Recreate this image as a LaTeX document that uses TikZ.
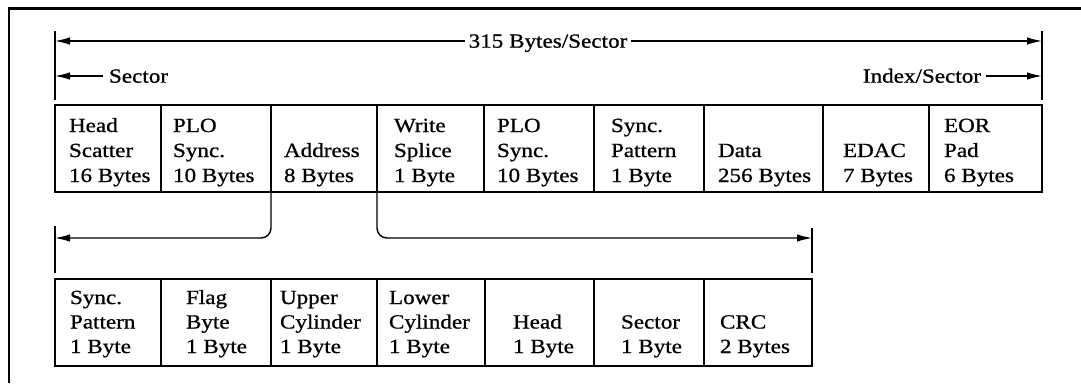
\documentclass[tikz,border=0pt]{standalone}
\usepackage{fontspec}
\setmainfont{Liberation Serif}[FakeStretch=1.15, FakeBold=0.8]
\usetikzlibrary{arrows.meta}
\newcommand{\fs}{\rule{0pt}{16pt}}
\tikzset{
  cell/.style={draw, line width=1.8pt, anchor=north west, inner sep=0pt, outer sep=0pt, minimum height=87pt},
  lbltop/.style={anchor=north west, inner sep=0pt, outer sep=0pt, align=left, font=\fontsize{20.1}{25}\selectfont},
  lblbot/.style={anchor=north west, inner sep=0pt, outer sep=0pt, align=left, font=\fontsize{20.1}{24.5}\selectfont},
  dimline/.style={line width=1.4pt},
  arr/.style={dimline, -{Latex[length=15pt,width=7.5pt]}},
  dimlbl/.style={font=\fontsize{20.1}{25}\selectfont, text height=13.3pt, text depth=0pt, inner ysep=0pt, outer sep=0pt},
  frameline/.style={line width=2.8pt}
}
\begin{document}
\begin{tikzpicture}[x=1pt,y=-1pt]
\useasboundingbox (0,0) rectangle (1081,383);
% outer frame
\draw[frameline] (9,383) -- (9,8.5) -- (1081,8.5);

% dimension ticks
\coordinate (tlt) at (55,31);  \coordinate (tlb) at (55,100);
\coordinate (trt) at (1042,31); \coordinate (trb) at (1042,100);
\draw[dimline] (tlt) -- (tlb);
\draw[dimline] (trt) -- (trb);
\coordinate (a1l) at (55,41);  \coordinate (a1r) at (1042,41);
\coordinate (a2l) at (55,76);  \coordinate (a2r) at (1042,76);

\node[dimlbl, inner xsep=4pt] (tot) at (548,41) {315 Bytes/Sector};
\draw[arr] (tot.west) -- (a1l);
\draw[arr] (tot.east) -- (a1r);

\node[dimlbl, anchor=west, inner xsep=6pt] (sec) at (103,76) {Sector};
\draw[arr] (sec.west) -- (a2l);
\node[dimlbl, anchor=east, inner xsep=5pt] (idx) at (986,76) {Index/Sector};
\draw[arr] (idx.east) -- (a2r);

% top row boxes
\node[cell, minimum width=106pt] (t1) at (55,105) {};
\node[cell, minimum width=110pt] (t2) at (161,105) {};
\node[cell, minimum width=106pt] (t3) at (271,105) {};
\node[cell, minimum width=107pt] (t4) at (377,105) {};
\node[cell, minimum width=110pt] (t5) at (484,105) {};
\node[cell, minimum width=110pt] (t6) at (594,105) {};
\node[cell, minimum width=119pt] (t7) at (704,105) {};
\node[cell, minimum width=106pt] (t8) at (823,105) {};
\node[cell, minimum width=113pt] (t9) at (929,105) {};

\node[lbltop] (t1l) at (69,116) {\fs Head\\Scatter\\16 Bytes};
\node[lbltop] (t2l) at (173,116) {\fs PLO\\Sync.\\10 Bytes};
\node[lbltop] (t3l) at (284,141) {\fs Address\\8 Bytes};
\node[lbltop] (t4l) at (394,116) {\fs Write\\Splice\\1 Byte};
\node[lbltop] (t5l) at (497,116) {\fs PLO\\Sync.\\10 Bytes};
\node[lbltop] (t6l) at (611,116) {\fs Sync.\\Pattern\\1 Byte};
\node[lbltop] (t7l) at (718,141) {\fs Data\\256 Bytes};
\node[lbltop] (t8l) at (843,141) {\fs EDAC\\7 Bytes};
\node[lbltop] (t9l) at (944,116) {\fs EOR\\Pad\\6 Bytes};

% address expansion connectors
\coordinate (ll) at (55,238);
\coordinate (lr) at (812,238);
\draw[arr, rounded corners=10pt] (t3.south west) |- (ll);
\draw[arr, rounded corners=10pt] (t4.south west) |- (lr);
\coordinate (blt) at (55,226);  \coordinate (blb) at (55,273);
\coordinate (brt) at (812,228); \coordinate (brb) at (812,273);
\draw[dimline] (blt) -- (blb);
\draw[dimline] (brt) -- (brb);

% bottom row boxes
\node[cell, minimum width=106pt] (b1) at (55,279) {};
\node[cell, minimum width=110pt] (b2) at (161,279) {};
\node[cell, minimum width=106pt] (b3) at (271,279) {};
\node[cell, minimum width=108pt] (b4) at (377,279) {};
\node[cell, minimum width=109pt] (b5) at (485,279) {};
\node[cell, minimum width=110pt] (b6) at (594,279) {};
\node[cell, minimum width=108pt] (b7) at (704,279) {};

\node[lblbot] (b1l) at (70,288) {\fs Sync.\\Pattern\\1 Byte};
\node[lblbot] (b2l) at (186,288) {\fs Flag\\Byte\\1 Byte};
\node[lblbot] (b3l) at (280,288) {\fs Upper\\Cylinder\\1 Byte};
\node[lblbot] (b4l) at (389,288) {\fs Lower\\Cylinder\\1 Byte};
\node[lblbot] (b5l) at (513,312.5) {\fs Head\\1 Byte};
\node[lblbot] (b6l) at (621,312.5) {\fs Sector\\1 Byte};
\node[lblbot] (b7l) at (720,312.5) {\fs CRC\\2 Bytes};
\end{tikzpicture}
\end{document}
